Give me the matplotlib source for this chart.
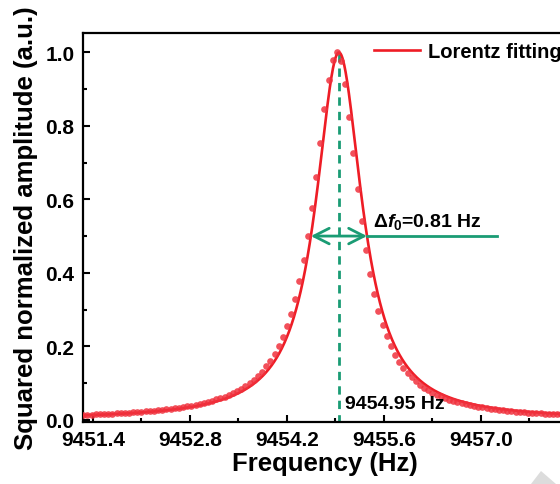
import numpy as np
import matplotlib.pyplot as plt
from matplotlib.ticker import FormatStrFormatter, AutoMinorLocator
from matplotlib.patches import Polygon

plt.rcParams['font.family'] = ['Liberation Sans', 'DejaVu Sans']
plt.rcParams['font.weight'] = 'bold'
plt.rcParams['axes.labelweight'] = 'bold'
plt.rcParams['mathtext.fontset'] = 'custom'
plt.rcParams['mathtext.rm'] = 'Liberation Sans:bold'
plt.rcParams['mathtext.it'] = 'Liberation Sans:bold:italic'
plt.rcParams['mathtext.bf'] = 'Liberation Sans:bold'

# Measured resonance (frequency in Hz, squared normalized amplitude)
freq = [
    9451.26, 9451.32, 9451.38, 9451.44, 9451.50, 9451.56, 9451.62, 9451.68, 9451.74, 9451.80,
    9451.86, 9451.92, 9451.98, 9452.04, 9452.10, 9452.16, 9452.22, 9452.28, 9452.34, 9452.40,
    9452.46, 9452.52, 9452.58, 9452.64, 9452.70, 9452.76, 9452.82, 9452.88, 9452.94, 9453.00,
    9453.06, 9453.12, 9453.18, 9453.24, 9453.30, 9453.36, 9453.42, 9453.48, 9453.54, 9453.60,
    9453.66, 9453.72, 9453.78, 9453.84, 9453.90, 9453.96, 9454.02, 9454.08, 9454.14, 9454.20,
    9454.26, 9454.32, 9454.38, 9454.44, 9454.50, 9454.56, 9454.62, 9454.68, 9454.74, 9454.80,
    9454.86, 9454.92, 9454.98, 9455.04, 9455.10, 9455.16, 9455.22, 9455.28, 9455.34, 9455.40,
    9455.46, 9455.52, 9455.58, 9455.64, 9455.70, 9455.76, 9455.82, 9455.88, 9455.94, 9456.00,
    9456.06, 9456.12, 9456.18, 9456.24, 9456.30, 9456.36, 9456.42, 9456.48, 9456.54, 9456.60,
    9456.66, 9456.72, 9456.78, 9456.84, 9456.90, 9456.96, 9457.02, 9457.08, 9457.14, 9457.20,
    9457.26, 9457.32, 9457.38, 9457.44, 9457.50, 9457.56, 9457.62, 9457.68, 9457.74, 9457.80,
    9457.86, 9457.92, 9457.98, 9458.04, 9458.10, 9458.16, 9458.22, 9458.28,
]
amp = [
    0.0130, 0.0134, 0.0139, 0.0144, 0.0149, 0.0154, 0.0159, 0.0165, 0.0171, 0.0178,
    0.0185, 0.0192, 0.0200, 0.0208, 0.0217, 0.0226, 0.0236, 0.0247, 0.0258, 0.0270,
    0.0283, 0.0297, 0.0312, 0.0328, 0.0346, 0.0364, 0.0385, 0.0407, 0.0431, 0.0457,
    0.0485, 0.0516, 0.0551, 0.0588, 0.0630, 0.0676, 0.0727, 0.0784, 0.0848, 0.0919,
    0.100, 0.109, 0.120, 0.131, 0.145, 0.161, 0.179, 0.200, 0.225, 0.254,
    0.288, 0.329, 0.377, 0.434, 0.500, 0.576, 0.662, 0.754, 0.845, 0.925,
    0.980, 1.000, 0.977, 0.914, 0.824, 0.725, 0.628, 0.540, 0.463, 0.398,
    0.343, 0.297, 0.259, 0.227, 0.200, 0.177, 0.158, 0.142, 0.128, 0.115,
    0.105, 0.0955, 0.0874, 0.0803, 0.0740, 0.0683, 0.0633, 0.0588, 0.0548, 0.0511,
    0.0478, 0.0448, 0.0421, 0.0396, 0.0373, 0.0353, 0.0333, 0.0316, 0.0299, 0.0284,
    0.0270, 0.0257, 0.0245, 0.0234, 0.0223, 0.0214, 0.0204, 0.0196, 0.0188, 0.0180,
    0.0173, 0.0166, 0.0160, 0.0154, 0.0148, 0.0143, 0.0138, 0.0133,
]

# Lorentz fit parameters
f0 = 9454.95
fwhm = 0.81

x_ticks = [9451.4, 9452.8, 9454.2, 9455.6, 9457.0]
y_ticks = [0.0, 0.2, 0.4, 0.6, 0.8, 1.0]

red = '#ee1c25'
green = '#1a9c74'

fig = plt.figure(figsize=(5.6, 4.85), dpi=100)
ax = fig.add_axes([0.1475, 0.128, 0.866, 0.802])

ff = np.linspace(9451.25, 9458.25, 1500)
fit = 1.0 / (1.0 + ((ff - f0) / (fwhm / 2)) ** 2)
ax.plot(ff, fit, color=red, lw=1.9, label='Lorentz fitting', zorder=3)
ax.plot(freq, amp, 'o', color='#f0313d', ms=4.8, mew=0, alpha=0.85, zorder=4)

# centre frequency marker
ax.plot([f0, f0], [-0.01, 1.0], color=green, lw=2, ls=(0, (3, 2.2)), zorder=2)
ax.text(f0 + 0.09, 0.033, '9454.95 Hz', fontsize=14, ha='left', va='baseline', zorder=5)

# linewidth arrow
ax.annotate('', xy=(f0 - fwhm / 2, 0.5), xytext=(f0 + fwhm / 2, 0.5),
            arrowprops=dict(arrowstyle='<->,head_length=0.55,head_width=0.28',
                            color=green, lw=2, shrinkA=0, shrinkB=0,
                            mutation_scale=20), zorder=5)
ax.plot([f0 + fwhm / 2, 9457.23], [0.5, 0.5], color=green, lw=2, zorder=5)
ax.text(9455.44, 0.527, 'Δ$f_0$=0.81 Hz', fontsize=14, ha='left', va='baseline')

ax.set_xlim(9451.25, 9458.25)
ax.set_ylim(-0.006, 1.053)
ax.set_xticks(x_ticks)
ax.set_yticks(y_ticks)
ax.xaxis.set_major_formatter(FormatStrFormatter('%.1f'))
ax.yaxis.set_major_formatter(FormatStrFormatter('%.1f'))
ax.xaxis.set_minor_locator(AutoMinorLocator(2))
ax.yaxis.set_minor_locator(AutoMinorLocator(2))
ax.tick_params(which='both', direction='in', width=1.5, labelsize=15, pad=6)
ax.tick_params(which='major', length=5)
ax.tick_params(which='minor', length=3)
for s in ax.spines.values():
    s.set_linewidth(1.6)

ax.set_xlabel('Frequency (Hz)', fontsize=18.5, fontweight='bold', labelpad=1)
ax.set_ylabel('Squared normalized amplitude (a.u.)', fontsize=18.5,
              fontweight='bold', labelpad=5)

ax.legend(loc='center left', bbox_to_anchor=(374 / 560, 1 - 53 / 485),
          bbox_transform=fig.transFigure, frameon=False, fontsize=14.5,
          handlelength=2.3, handletextpad=0.4, borderpad=0, borderaxespad=0)

# small grey corner mark
fig.patches.append(Polygon([(531 / 560, 0.0), (541 / 560, 13 / 485), (556 / 560, 0.0)],
                           closed=True, transform=fig.transFigure,
                           facecolor='#dcdcdc', edgecolor='none'))

fig.savefig('out.png', dpi=100)
